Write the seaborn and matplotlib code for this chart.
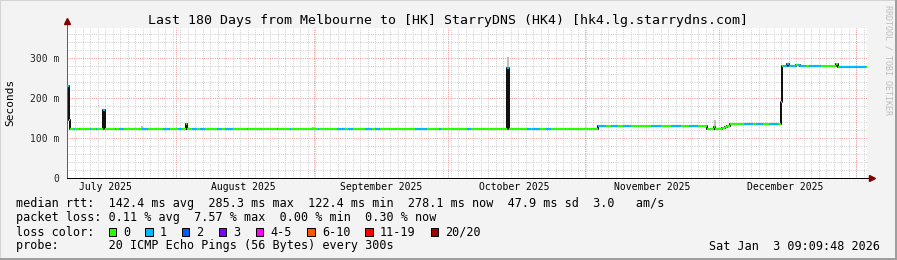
import numpy as np
import pandas as pd
import matplotlib
matplotlib.use("Agg")
import matplotlib.pyplot as plt
import seaborn as sns
from matplotlib.patches import Rectangle
from matplotlib.lines import Line2D

# ---------------- data ----------------
title = "Last 180 Days from Melbourne to [HK] StarryDNS (HK4) [hk4.lg.starrydns.com]"
start_time = "2025-07-07 09:09:48"
span_days = 180

month_labels = ["July 2025", "August 2025", "September 2025",
                "October 2025", "November 2025", "December 2025"]
month_label_dates = ["2025-07-16", "2025-08-16", "2025-09-16",
                     "2025-10-16", "2025-11-16", "2025-12-16"]
month_start_dates = ["2025-08-01", "2025-09-01", "2025-10-01",
                     "2025-11-01", "2025-12-01", "2026-01-01"]

y_ticks = [0, 100, 200, 300]
y_tick_labels = ["0", "100 m", "200 m", "300 m"]

# median rtt (ms), step breakpoints in days since start
med_day = [0.0, 0.40, 0.62, 8.15, 8.55, 26.7, 27.05, 99.1, 99.45, 103.3,
           119.4, 144.0, 145.6, 145.9, 147.4, 148.0, 148.5, 149.1, 160.6,
           160.95, 161.9, 162.4, 164.0, 165.0, 173.0, 173.4, 180.0]
med_ms = [229, 145, 123.5, 170, 123.5, 134, 123.5, 275, 123.5, 122,
          129, 123, 128, 123, 125.5, 128, 131, 136, 190,
          281, 285, 281, 282, 279, 284, 277, 277]

# periods with 1 lost ping (blue)
loss1_start = [0.0, 1.6, 2.7, 5.2, 6.5, 8.15, 10.8, 11.7, 16.9, 21.6, 25.0, 28.2,
               30.0, 33.8, 35.6, 40.5, 47.3, 50.2, 56.5, 60.8, 63.3, 67.1, 69.4,
               78.4, 83.6, 90.1, 92.6, 99.1, 103.6, 104.7, 107.7, 119.4, 122.3,
               125.0, 131.3, 135.8, 139.9, 152.3, 155.0, 157.9, 161.0, 164.4,
               167.0, 173.6]
loss1_end = [0.40, 1.8, 2.9, 5.4, 6.8, 8.55, 11.0, 12.8, 18.2, 23.2, 25.9, 29.3,
             31.1, 34.9, 37.4, 40.8, 47.5, 50.4, 56.7, 62.6, 64.4, 68.7, 70.5,
             81.1, 84.2, 90.8, 92.8, 99.45, 104.3, 106.5, 108.8, 121.2, 123.9,
             126.8, 133.6, 138.1, 141.9, 154.3, 156.5, 159.9, 164.0, 166.3,
             169.6, 179.8]

# smoke (spread of pings), grey
smoke_day = [16.9, 55.4, 99.27, 145.9]
smoke_lo = [124, 124, 275, 123]
smoke_hi = [131, 128.5, 302, 145]

loss_labels = ["0", "1", "2", "3", "4-5", "6-10", "11-19", "20/20"]
loss_colors = ["#26ff00", "#00b8ff", "#0059ff", "#7e00ff",
               "#ff00ff", "#ff5500", "#ff0000", "#a00000"]

legend_lines = [
    "median rtt:  142.4 ms avg  285.3 ms max  122.4 ms min  278.1 ms now  47.9 ms sd  3.0   am/s",
    "packet loss: 0.11 % avg  7.57 % max  0.00 % min  0.30 % now",
    "loss color:",
    "probe:       20 ICMP Echo Pings (56 Bytes) every 300s",
]
stamp = "Sat Jan  3 09:09:48 2026"
side_text = "RRDTOOL / TOBI OETIKER"

# ---------------- layout ----------------
W, H, DPI = 897, 260, 100


def pt(p):
    return p * 72.0 / DPI


def fx(x):
    return x / W


def fy(y):
    return 1 - y / H


sns.set_theme(style="white")
plt.rcParams["font.family"] = ["DejaVu Sans Mono"]

fig = plt.figure(figsize=(W / DPI, H / DPI), dpi=DPI, facecolor="#f3f3f3")
ax = fig.add_axes([fx(67), fy(178), (867 - 67) / W, 150 / H])
ax.set_facecolor("white")

t0 = pd.Timestamp(start_time)


def to_day(s):
    return (pd.Timestamp(s) - t0) / pd.Timedelta(days=1)


lab_pos = [to_day(s) for s in month_label_dates]
mon_pos = [to_day(s) for s in month_start_dates]

ax.set_xlim(0, span_days)
ax.set_ylim(0, 375)

# grids
minor_x = np.arange(1.8, span_days, 1.69)
grid_kw = dict(lw=pt(1), linestyles=(0, (1, 1.2)), zorder=0.5)
ax.vlines(minor_x, 0, 375, color="#cfcfcf", **grid_kw)
minor_y = [v for v in range(20, 375, 20) if v % 100]
ax.hlines(minor_y, 0, span_days, color="#cfcfcf", **grid_kw)
ax.vlines(mon_pos, 0, 375, color="#f09a9a", **grid_kw)
ax.hlines(y_ticks[1:], 0, span_days, color="#f09a9a", **grid_kw)

# smoke
ax.vlines(smoke_day, smoke_lo, smoke_hi, color="#b0b0b0", lw=pt(1.6), zorder=2)

# median line: dark step line, then coloured horizontal pieces
sns.lineplot(x=med_day, y=med_ms, drawstyle="steps-post", color="#111111",
             linewidth=pt(2.0), ax=ax, zorder=3)
md = np.array(med_day)
mm = np.array(med_ms)
ax.hlines(mm[:-1], md[:-1], md[1:], color=loss_colors[0], lw=pt(2.1), zorder=4)


def draw_loss(starts, ends, color):
    for a, b in zip(starts, ends):
        cuts = [a] + [d for d in md if a < d < b] + [b]
        for s, e in zip(cuts[:-1], cuts[1:]):
            i = np.searchsorted(md, s, side="right") - 1
            ax.hlines(mm[i], s, e, color=color, lw=pt(2.1), zorder=5)


draw_loss(loss1_start, loss1_end, loss_colors[1])

# axes styling
for s in ["top", "right"]:
    ax.spines[s].set_visible(False)
ax.spines["left"].set_color("#606060")
ax.spines["left"].set_linewidth(pt(1))
ax.spines["bottom"].set_color("#000000")
ax.spines["bottom"].set_linewidth(pt(1))

ax.set_xticks(lab_pos)
ax.set_xticklabels(month_labels)
ax.set_xticks(mon_pos, minor=True)
ax.tick_params(axis="x", which="major", length=0, pad=pt(4), labelsize=7, colors="#000000")
ax.tick_params(axis="x", which="minor", length=pt(3), width=pt(1), color="#e06060", direction="out")
ax.set_yticks(y_ticks)
ax.set_yticklabels(y_tick_labels)
ax.tick_params(axis="y", which="major", length=pt(3), width=pt(1), color="#606060",
               pad=pt(5), labelsize=7, direction="out")
ax.set_xlabel("")
ax.set_ylabel("")

# axis extensions and arrows
ax.add_line(Line2D([0, 0], [1, 1.045], transform=ax.transAxes, color="#606060",
                   lw=pt(1), clip_on=False))
ax.add_line(Line2D([1, 1.005], [0, 0], transform=ax.transAxes, color="#000000",
                   lw=pt(1), clip_on=False))
ax.plot([0], [1.05], transform=ax.transAxes, marker="^", color="#7f0000",
        markersize=5, clip_on=False)
ax.plot([1.0065], [0], transform=ax.transAxes, marker=">", color="#7f0000",
        markersize=5, clip_on=False)

# texts
fig.text(fx(447.5), fy(24), title, ha="center", va="baseline", fontsize=9.5, color="#000000")
fig.text(fx(10.5), fy(102.5), "Seconds", rotation=90, ha="center", va="center",
         fontsize=8, color="#000000")
fig.text(fx(887.5), fy(5), side_text, rotation=270, ha="center", va="top",
         fontsize=6, color="#bdbdbd")

base_y = [207.5, 221.5, 235.5, 249.5]
for line, y in zip(legend_lines, base_y):
    fig.text(fx(16), fy(y), line, ha="left", va="baseline", fontsize=8.5, color="#000000")
fig.text(fx(880), fy(249.5), stamp, ha="right", va="baseline", fontsize=8.5, color="#000000")

box_x = [108.7, 145.3, 182.0, 218.7, 256.0, 307.3, 365.3, 430.7]
for bx, lab, col in zip(box_x, loss_labels, loss_colors):
    fig.add_artist(Rectangle((fx(bx), fy(235.6)), 7.3 / W, 7.3 / H, transform=fig.transFigure,
                             facecolor=col, edgecolor="#000000", lw=pt(1)))
    fig.text(fx(bx + 14.5), fy(235.5), lab, ha="left", va="baseline", fontsize=8.5,
             color="#000000")

# frame (3d shade)
fig.add_artist(Rectangle((0, 1 - 1 / H), 1, 1 / H, transform=fig.transFigure,
                         facecolor="#d4d4d4", edgecolor="none"))
fig.add_artist(Rectangle((0, 0), 1 / W, 1, transform=fig.transFigure,
                         facecolor="#d4d4d4", edgecolor="none"))
fig.add_artist(Rectangle((0, 0), 1, 2 / H, transform=fig.transFigure,
                         facecolor="#9e9e9e", edgecolor="none"))
fig.add_artist(Rectangle((1 - 2 / W, 0), 2 / W, 1, transform=fig.transFigure,
                         facecolor="#9e9e9e", edgecolor="none"))

fig.savefig("out.png", dpi=DPI, facecolor=fig.get_facecolor())
